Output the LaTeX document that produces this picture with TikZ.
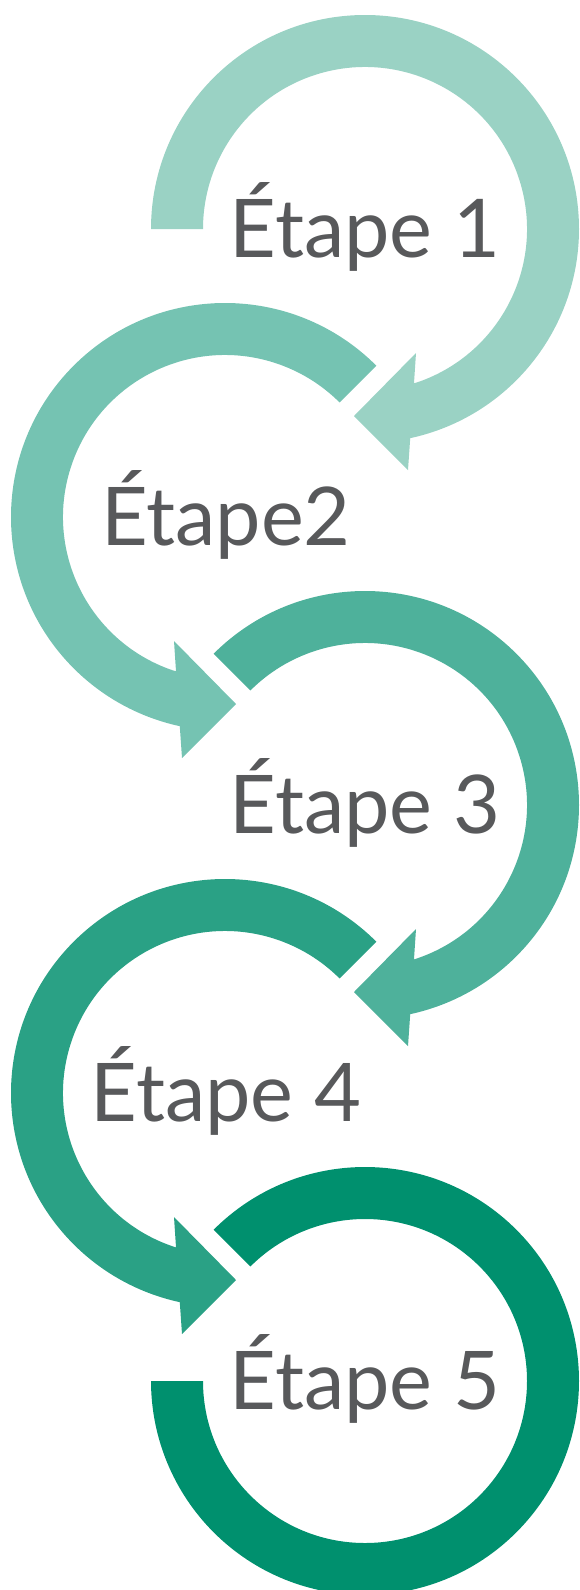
\documentclass[tikz,border=0pt]{standalone}
\usepackage{fontspec}
\setmainfont{Lato}
\definecolor{cA}{HTML}{9AD2C4}
\definecolor{cB}{HTML}{75C3B2}
\definecolor{cC}{HTML}{4EB19B}
\definecolor{cD}{HTML}{2AA185}
\definecolor{cE}{HTML}{00906E}
\definecolor{txt}{HTML}{58595B}
\tikzset{
  lbl/.style={anchor=base, text=txt, inner sep=0pt, font=\fontsize{81}{81}\selectfont},
}
\begin{document}
\begin{tikzpicture}[x=1pt,y=1pt]
\useasboundingbox (0,0) rectangle (579,-1590);
\clip (0,0) rectangle (579,-1590);
% ring 1
\begin{scope}[shift={(365,-229)}]
\fill[cA] (180:214) arc[start angle=180,end angle=-77.8,radius=214]
  -- (43,-241) -- (-11,-187) -- (51,-124) -- (-72.4:162)
  arc[start angle=-72.4,end angle=180,radius=162] -- cycle;
\end{scope}
% ring 2
\begin{scope}[shift={(225,-517)},xscale=-1]
\fill[cB] (135:214) arc[start angle=135,end angle=-77.8,radius=214]
  -- (43,-241) -- (-11,-187) -- (51,-124) -- (-72.4:162)
  arc[start angle=-72.4,end angle=135,radius=162] -- cycle;
\end{scope}
% ring 3
\begin{scope}[shift={(365,-805)}]
\fill[cC] (135:214) arc[start angle=135,end angle=-77.8,radius=214]
  -- (43,-241) -- (-11,-187) -- (51,-124) -- (-72.4:162)
  arc[start angle=-72.4,end angle=135,radius=162] -- cycle;
\end{scope}
% ring 4
\begin{scope}[shift={(225,-1093)},xscale=-1]
\fill[cD] (135:214) arc[start angle=135,end angle=-77.8,radius=214]
  -- (43,-241) -- (-11,-187) -- (51,-124) -- (-72.4:162)
  arc[start angle=-72.4,end angle=135,radius=162] -- cycle;
\end{scope}
% ring 5
\begin{scope}[shift={(365,-1381)}]
\fill[cE] (135:214) arc[start angle=135,end angle=-180,radius=214]
  -- (-162,0) arc[start angle=-180,end angle=135,radius=162] -- cycle;
\end{scope}
% labels
\node[lbl] (t1) at (365,-257) {Étape 1};
\node[lbl] (t2) at (226,-545) {Étape2};
\node[lbl] (t3) at (365,-833) {Étape 3};
\node[lbl] (t4) at (226,-1121) {Étape 4};
\node[lbl] (t5) at (365,-1409) {Étape 5};
\end{tikzpicture}
\end{document}
